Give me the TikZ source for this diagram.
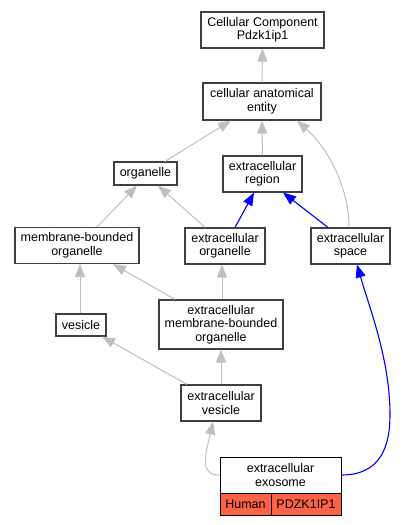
\documentclass[tikz,border=0pt]{standalone}
\usepackage{fontspec}
\setmainfont{Liberation Sans}
\usetikzlibrary{arrows.meta}
\definecolor{tomatored}{HTML}{FF6347}
\begin{document}
\begin{tikzpicture}[x=1pt,y=-1pt,
  box/.style={draw=black!75, line width=1.1pt, fill=white, align=center, inner sep=0pt,
    font=\fontsize{12.5}{13.5}\selectfont},
  exobox/.style={draw=black, line width=0.9pt, fill=white, align=center, inner sep=0pt,
    font=\fontsize{12.5}{13.5}\selectfont},
  cellbox/.style={exobox, fill=tomatored},
  gedge/.style={draw=black!25, line width=1pt, -{Triangle[length=13pt,width=10pt]}},
  bedge/.style={draw=blue, line width=1.1pt, -{Triangle[length=13pt,width=10pt]}}]
\useasboundingbox (0,0) rectangle (407,525);
\node[box, minimum width=123pt, minimum height=36pt] (cc) at (262.5,30) {Cellular Component\\Pdzk1ip1};
\node[box, minimum width=118pt, minimum height=37pt] (cae) at (262,101.5) {cellular anatomical\\entity};
\node[box, minimum width=63pt, minimum height=23pt] (org) at (145.5,173.5) {organelle};
\node[box, minimum width=79pt, minimum height=36pt] (ereg) at (262.5,174) {extracellular\\region};
\node[box, minimum width=124pt, minimum height=36pt] (mbo) at (77,245.5) {membrane-bounded\\organelle};
\node[box, minimum width=80pt, minimum height=36pt] (eorg) at (225,246) {extracellular\\organelle};
\node[box, minimum width=79pt, minimum height=36pt] (espc) at (350.5,246) {extracellular\\space};
\node[box, minimum width=50pt, minimum height=22pt] (ves) at (81,325) {vesicle};
\node[box, minimum width=124pt, minimum height=49pt] (emo) at (221,324.5) {extracellular\\membrane-bounded\\organelle};
\node[box, minimum width=80pt, minimum height=36pt] (eves) at (221,403) {extracellular\\vesicle};
\node[exobox, minimum width=121pt, minimum height=36pt] (exo) at (280.5,475) {extracellular\\exosome};
\node[cellbox, minimum width=51pt, minimum height=22pt] (hum) at (245.5,504) {Human};
\node[cellbox, minimum width=70pt, minimum height=22pt] (pdz) at (306,504) {PDZK1IP1};

\draw[gedge] (cae.north) -- (cc.south);
\draw[gedge] ([xshift=19.5pt]org.north) -- ([xshift=-31pt]cae.south);
\draw[gedge] (ereg.north) -- (cae.south);
\draw[gedge] ([xshift=-1.5pt]espc.north) .. controls +(0,-38) and +(33,30) .. ([xshift=35pt]cae.south);
\draw[bedge] ([xshift=10pt]eorg.north) -- ([xshift=-8.5pt]ereg.south);
\draw[bedge] ([xshift=-22.5pt]espc.north) -- ([xshift=20.5pt]ereg.south);
\draw[gedge] ([xshift=20pt]mbo.north) -- ([xshift=-8.5pt]org.south);
\draw[gedge] ([xshift=-20pt]eorg.north) -- ([xshift=12.5pt]org.south);
\draw[gedge] ([xshift=-1pt]ves.north) -- ([xshift=3pt]mbo.south);
\draw[gedge] ([xshift=-46pt]emo.north) -- ([xshift=36pt]mbo.south);
\draw[gedge] ([xshift=1pt]emo.north) -- ([xshift=-3pt]eorg.south);
\draw[gedge] ([xshift=-34pt]eves.north) -- ([xshift=21pt]ves.south);
\draw[gedge] (eves.north) -- (emo.south);
\draw[gedge] (exo.west) .. controls +(-20,0) and +(-8,35) .. ([xshift=-8pt]eves.south);
\coordinate (bend) at (390,415);
\draw[bedge] (exo.east) .. controls +(40,0) and +(0,30) .. (bend) .. controls +(0,-55) and +(13,45) .. ([xshift=6.5pt]espc.south);
\end{tikzpicture}
\end{document}
